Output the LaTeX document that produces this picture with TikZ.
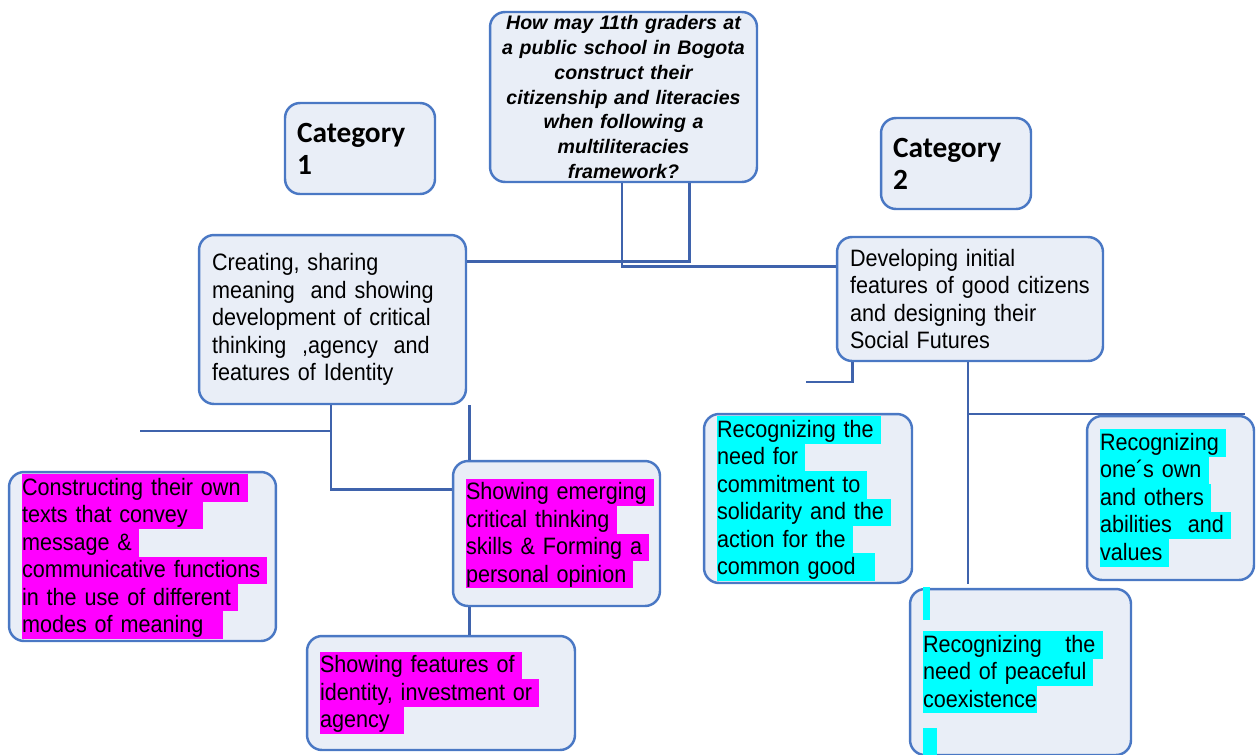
\documentclass[tikz,border=0pt]{standalone}
\usepackage{fontspec}
\setmainfont{Liberation Sans}
\newfontfamily\bodyfont{Liberation Sans}[FakeStretch=0.91]
\newfontfamily\catfont{Carlito}
\usetikzlibrary{calc}
\definecolor{boxfill}{HTML}{E9EEF7}
\definecolor{boxline}{HTML}{4A78C4}
\definecolor{linkline}{HTML}{3F63AC}
\definecolor{hlmag}{HTML}{FF00FF}
\definecolor{hlcyan}{HTML}{00FFFF}
\newcommand{\bodysize}{\fontsize{13.5pt}{15.6pt}\selectfont}
\newcommand{\qsize}{\fontsize{11.15pt}{14.2pt}\selectfont}
\newcommand{\catsize}{\fontsize{16.7pt}{18.2pt}\selectfont}
\newcommand{\hlstrut}{\rule[-3.6pt]{0pt}{15.6pt}}
% highlighted lines, optional extra room after the text
\newcommand{\hlm}[2][0pt]{{\setlength{\fboxsep}{0pt}\colorbox{hlmag}{\hlstrut#2\hspace{4pt}\hspace{#1}}}}
\newcommand{\hlc}[2][0pt]{{\setlength{\fboxsep}{0pt}\colorbox{hlcyan}{\hlstrut#2\hspace{4pt}\hspace{#1}}}}
\begin{document}
\begin{tikzpicture}[x=0.02cm, y=-0.02cm,
  cell/.style={draw=boxline, line width=1.4pt, fill=boxfill, rounded corners=0.3cm,
    inner xsep=0.26cm, inner ysep=-4pt, align=left, font=\bodysize\bodyfont},
  ques/.style={cell, align=center, inner xsep=0.1cm, font=\qsize\bfseries\itshape},
  cat/.style={cell, inner xsep=0.24cm, font=\catsize\catfont\bfseries},
  link/.style={draw=linkline, line width=1.6pt}]
\useasboundingbox (0,0) rectangle (1260,754);

\node[ques, minimum width=5.34cm, minimum height=3.4cm, text width=5.14cm] (q) at (623.5,97)
  {How may 11th graders at\\a public school in Bogota\\construct their\\citizenship and literacies\\when following a\\multiliteracies\\framework?};
\node[cat, minimum width=3cm, minimum height=1.82cm, text width=2.52cm] (cat1) at (360,148.5) {Category\\1};
\node[cat, minimum width=3cm, minimum height=1.82cm, text width=2.52cm] (cat2) at (956,163.5) {Category\\2};

% category 1
\node[cell, minimum width=5.34cm, minimum height=3.38cm, text width=4.82cm] (c1) at (332.5,319.5)
  {Creating, sharing\\meaning\ \ and showing\\development of critical\\thinking\ \ ,agency\ \ and\\features of Identity};
\node[cell, minimum width=5.34cm, minimum height=3.38cm, text width=4.82cm] (l1) at (142.5,556.5)
  {\hlm{Constructing their own}\\\hlm[4.5pt]{texts that convey}\\\hlm{message \&}\\\hlm{communicative functions}\\\hlm{in the use of different}\\\hlm[7pt]{modes of meaning}};
\node[cell, minimum width=4.14cm, minimum height=2.9cm, text width=3.62cm] (l2) at (556.5,533.5)
  {\hlm{Showing emerging}\\\hlm{critical thinking}\\\hlm{skills \& Forming a}\\\hlm{personal opinion}};
\node[cell, minimum width=5.36cm, minimum height=2.28cm, text width=4.84cm] (l3) at (441,693)
  {\hlm{Showing features of}\\\hlm{identity, investment or}\\\hlm[4pt]{agency}};

% category 2
\node[cell, minimum width=5.32cm, minimum height=2.48cm, text width=4.8cm] (c2) at (970,299)
  {Developing initial\\features of good citizens\\and designing their\\Social Futures};
\node[cell, minimum width=4.16cm, minimum height=3.38cm, text width=3.64cm] (r1) at (808,498.5)
  {\hlc{Recognizing the}\\\hlc{need for}\\\hlc{commitment to}\\\hlc{solidarity and the}\\\hlc{action for the}\\\hlc[7pt]{common good}};
\node[cell, minimum width=3.34cm, minimum height=3.28cm, text width=2.82cm] (r2) at (1170.5,498)
  {\hlc{Recognizing}\\\hlc{one´s own}\\\hlc{and others}\\\hlc{abilities\ \ and}\\\hlc{values}};
\node[cell, minimum width=4.42cm, minimum height=3.32cm, text width=3.9cm] (r3) at (1020.5,672)
  {\textcolor{hlcyan}{\rule[-4pt]{4pt}{19pt}}\\[5.4pt]\hlc{Recognizing\ \ \ the}\\\hlc{need of peaceful}\\\hlc[-4pt]{coexistence}\\[7.1pt]\textcolor{hlcyan}{\rule[-4pt]{8pt}{17pt}}};

\coordinate (c1end) at (140,431);
\coordinate (c2end) at (806,382);
\coordinate (r2end) at (1245,414);
\coordinate (l2top) at ($(l2.north west)+(18,0)$);
\coordinate (l2bot) at ($(l2.south west)+(18,0)$);

\draw[link] ($(q.south)+(66,0)$) |- ($(c1.north east)+(0,28)$);
\draw[link] ($(q.south)+(-1.5,0)$) |- ($(c2.north west)+(0,31)$);
\draw[link] ($(c1.south)+(-1.5,0)$) |- (c1end);
\draw[link] ($(c1.south)+(-1.5,0)$) |- ($(l2.north west)+(0,30)$);
\draw[link] (l2top |- c1.south) -- (l2top);
\draw[link] (l2bot) -- (l2bot |- l3.north);
\draw[link] ($(c2.south west)+(17,0)$) |- (c2end);
\draw[link] ($(c2.south)+(-2,0)$) -- ($(c2.south |- r3.north)+(-2,-4)$);
\draw[link] ($(c2.south |- r2end)+(-2,0)$) -- (r2end);
\end{tikzpicture}
\end{document}
